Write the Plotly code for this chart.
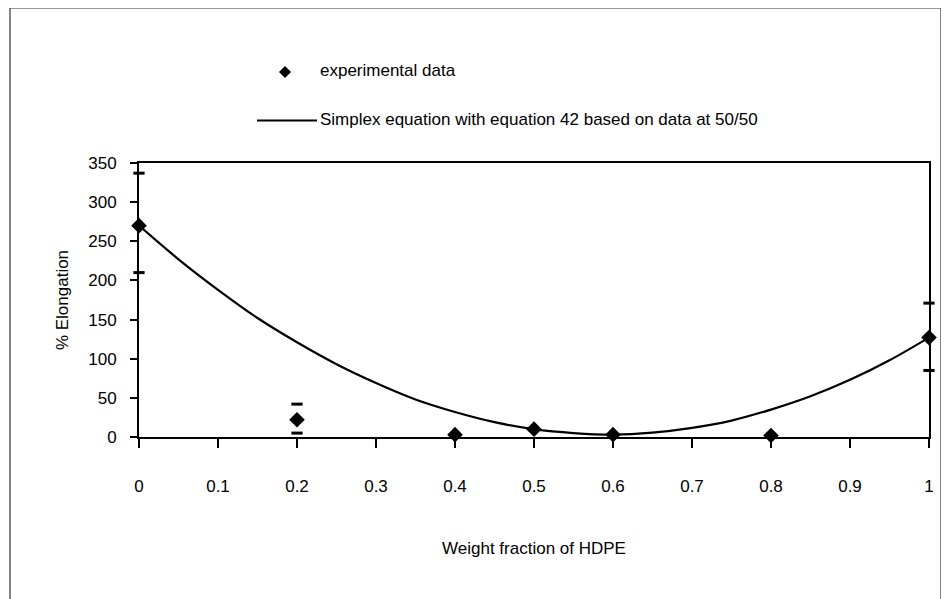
import plotly.graph_objects as go

# Experimental data
exp_x = [0, 0.2, 0.4, 0.5, 0.6, 0.8, 1.0]
exp_y = [270, 22, 3, 10, 3, 2, 127]
# error bar cap values (upper / lower) where visible
err_x = [0, 0.2, 1.0]
err_hi = [337, 42, 171]
err_lo = [210, 5, 85]

# Simplex equation curve
curve_x = [0, 0.05, 0.1, 0.15, 0.2, 0.25, 0.3, 0.35, 0.4, 0.45, 0.5,
           0.55, 0.6, 0.65, 0.7, 0.75, 0.8, 0.85, 0.9, 0.95, 1.0]
curve_y = [270, 227, 188, 152, 121, 93, 69, 48, 32, 19, 10,
           5, 3, 5.5, 11.6, 21, 35, 52, 73, 98, 127]

x_ticks = [0, 0.1, 0.2, 0.3, 0.4, 0.5, 0.6, 0.7, 0.8, 0.9, 1]
x_tick_text = ["0", "0.1", "0.2", "0.3", "0.4", "0.5", "0.6", "0.7", "0.8", "0.9", "1"]
y_ticks = [0, 50, 100, 150, 200, 250, 300, 350]

FONT = "Arial, Liberation Sans, sans-serif"

fig = go.Figure()
fig.add_trace(go.Scatter(x=curve_x, y=curve_y, mode="lines",
                         line=dict(color="black", width=2.2, shape="spline"),
                         cliponaxis=False, showlegend=False))
fig.add_trace(go.Scatter(x=err_x + err_x, y=err_hi + err_lo, mode="markers",
                         marker=dict(symbol="line-ew", size=8, color="black",
                                     line=dict(color="black", width=3)),
                         cliponaxis=False, showlegend=False))
fig.add_trace(go.Scatter(x=exp_x, y=exp_y, mode="markers",
                         marker=dict(symbol="diamond", size=12, color="black"),
                         cliponaxis=False, showlegend=False))

OFF = 8  # page body margin
W, H = 949 - OFF, 599 - OFF
# plot area in page pixels
L, R, T, B = 139, 929, 163, 437
pw, ph = R - L, B - T

def px(xp):
    return (xp - L) / pw

def py(yp):
    return (B - yp) / ph

# outer frame
fig.add_shape(type="rect", xref="paper", yref="paper",
              x0=px(10), x1=px(941), y0=py(620), y1=py(8),
              line=dict(color="#333", width=1.2), layer="below")
# legend: diamond
fig.add_shape(type="path", xref="paper", yref="paper",
              xsizemode="pixel", ysizemode="pixel",
              xanchor=px(285), yanchor=py(72),
              path="M 0,6 L 6,0 L 0,-6 L -6,0 Z",
              fillcolor="black", line=dict(color="black", width=0))
fig.add_annotation(xref="paper", yref="paper", x=px(318), y=py(71),
                   text="experimental data", showarrow=False,
                   xanchor="left", yanchor="middle",
                   font=dict(family=FONT, size=17, color="black"))
# legend: line
fig.add_shape(type="line", xref="paper", yref="paper",
              x0=px(257), x1=px(317), y0=py(120.5), y1=py(120.5),
              line=dict(color="black", width=2))
fig.add_annotation(xref="paper", yref="paper", x=px(318), y=py(119),
                   text="Simplex equation with equation 42 based on data at 50/50",
                   showarrow=False, xanchor="left", yanchor="middle",
                   font=dict(family=FONT, size=17, color="black"))

fig.update_layout(
    width=W, height=H,
    margin=dict(l=L - OFF, r=W - (R - OFF), t=T - OFF, b=H - (B - OFF), pad=0),
    paper_bgcolor="white", plot_bgcolor="white",
    font=dict(family=FONT, size=17, color="black"),
    xaxis=dict(range=[0, 1], tickvals=x_ticks, ticktext=x_tick_text,
               ticks="outside", ticklen=9, tickwidth=1.5, tickcolor="black",
               showline=True, linecolor="black", linewidth=2, mirror=True,
               showgrid=False, zeroline=False, ticklabelstandoff=24,
               tickfont=dict(size=17),
               title=dict(text="Weight fraction of HDPE", standoff=47,
                          font=dict(size=17))),
    yaxis=dict(range=[0, 350], tickvals=y_ticks,
               ticks="outside", ticklen=7, tickwidth=1.5, tickcolor="black",
               showline=True, linecolor="black", linewidth=2, mirror=True,
               showgrid=False, zeroline=False, ticklabelstandoff=10,
               tickfont=dict(size=17),
               title=dict(text="% Elongation", standoff=15,
                          font=dict(size=17))),
)

fig.write_html("out.html")
